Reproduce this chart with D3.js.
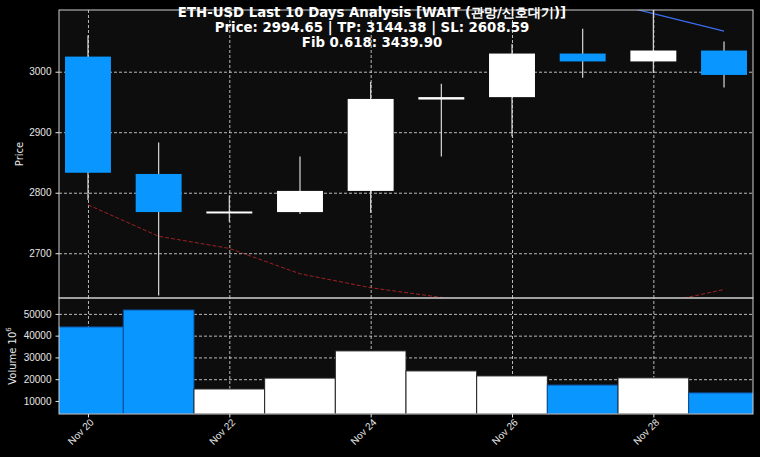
<!DOCTYPE html>
<html>
  <head>
    <meta charset="utf-8">
    <title>ETH-USD last 10 days</title>
    <script src="https://d3js.org/d3.v7.min.js"></script>
    <style>
      body { margin: 0; background: #000; font-family: 'DejaVu Sans', sans-serif; }
      .grid line { stroke: #8a8a8a; stroke-dasharray: 3,2; stroke-width: 0.8; }
      .tick text { fill: #e6e6e6; font-size: 10px; }
      .tick line { stroke: #e6e6e6; }
    </style>
  </head>
  <body>
    <svg></svg>
    <script>
      //begin: data
      var days  = ["2025-11-20","2025-11-21","2025-11-22","2025-11-23","2025-11-24",
                   "2025-11-25","2025-11-26","2025-11-27","2025-11-28","2025-11-29"];
      var open  = [3025, 2831, 2767, 2768, 2803, 2954, 2958, 3030, 3017, 3035];
      var high  = [3060, 2883, 2795, 2860, 2983, 2980, 3046, 3071, 3115, 3050];
      var low   = [2788, 2630, 2752, 2765, 2767, 2860, 2893, 2990, 2998, 2974];
      var close = [2833, 2768, 2769, 2803, 2955, 2958, 3030, 3017, 3035, 2994.65];
      var volume = [44000, 51800, 15500, 20500, 33000, 23800, 21500, 17300, 20600, 13700];
      var lowerLine = [2780, 2728, 2708, 2666, 2643, 2627, 2610, 2600, 2615, 2640];
      var upperLine = [null, null, null, null, null, null, null, 3125, 3096, 3067];
      var priceTicks = [2700, 2800, 2900, 3000];
      var volTicks = [10000, 20000, 30000, 40000, 50000];
      var titleLines = ["ETH-USD Last 10 Days Analysis [WAIT (관망/신호대기)]",
                        "Price: 2994.65 | TP: 3144.38 | SL: 2608.59",
                        "Fib 0.618: 3439.90"];
      //end: data

      var parse = d3.timeParse("%Y-%m-%d");
      var data = days.map(function(d, i) {
        return { date: parse(d), o: open[i], h: high[i], l: low[i], c: close[i],
                 v: volume[i], lo: lowerLine[i], up: upperLine[i] };
      });

      //begin: layout conf.
      var svgWidth = 760, svgHeight = 457,
          left = 59, right = 753,
          priceTop = 10, priceBottom = 298,
          volTop = 298, volBottom = 414,
          DAY = 864e5;
      //end: layout conf.

      var blue = "#0a96ff", frame = "#d0d0d0";

      var svg = d3.select("svg").attr("width", svgWidth).attr("height", svgHeight);
      svg.append("rect").attr("width", svgWidth).attr("height", svgHeight).attr("fill", "#000");

      var x = d3.scaleTime()
        .domain([new Date(+data[0].date - 0.41 * DAY), new Date(+data[9].date + 0.41 * DAY)])
        .range([left, right]);
      var yPrice = d3.scaleLinear().domain([2626, 3102]).range([priceBottom, priceTop]);
      var yVol = d3.scaleLinear().domain([4000, 57300]).range([volBottom, volTop]);

      var dateTicks = data.filter(function(d, i) { return i % 2 === 0; }).map(function(d) { return d.date; });

      svg.append("defs").append("clipPath").attr("id", "clipP")
        .append("rect").attr("x", left).attr("y", priceTop).attr("width", right - left).attr("height", priceBottom - priceTop);
      svg.select("defs").append("clipPath").attr("id", "clipV")
        .append("rect").attr("x", left).attr("y", volTop).attr("width", right - left).attr("height", volBottom - volTop);

      // panel backgrounds
      svg.append("rect").attr("x", left).attr("y", priceTop).attr("width", right - left)
        .attr("height", priceBottom - priceTop).attr("fill", "#0d0d0d");
      svg.append("rect").attr("x", left).attr("y", volTop).attr("width", right - left)
        .attr("height", volBottom - volTop).attr("fill", "#0d0d0d");

      // grids
      svg.append("g").attr("class", "grid").attr("transform", "translate(" + left + ",0)")
        .call(d3.axisLeft(yPrice).tickValues(priceTicks).tickSize(-(right - left)).tickFormat(""))
        .call(function(g) { g.select(".domain").remove(); });
      svg.append("g").attr("class", "grid").attr("transform", "translate(0," + priceBottom + ")")
        .call(d3.axisBottom(x).tickValues(dateTicks).tickSize(-(priceBottom - priceTop)).tickFormat(""))
        .call(function(g) { g.select(".domain").remove(); });
      svg.append("g").attr("class", "grid").attr("transform", "translate(" + left + ",0)")
        .call(d3.axisLeft(yVol).tickValues(volTicks).tickSize(-(right - left)).tickFormat(""))
        .call(function(g) { g.select(".domain").remove(); });
      svg.append("g").attr("class", "grid").attr("transform", "translate(0," + volBottom + ")")
        .call(d3.axisBottom(x).tickValues(dateTicks).tickSize(-(volBottom - volTop)).tickFormat(""))
        .call(function(g) { g.select(".domain").remove(); });

      // lines
      var linesG = svg.append("g").attr("clip-path", "url(#clipP)");
      linesG.append("path").datum(data)
        .attr("fill", "none").attr("stroke", "#c0262a").attr("stroke-opacity", 0.8)
        .attr("stroke-width", 1).attr("stroke-dasharray", "4,2")
        .attr("d", d3.line().x(function(d) { return x(d.date); }).y(function(d) { return yPrice(d.lo); }));
      linesG.append("path").datum(data)
        .attr("fill", "none").attr("stroke", "#3a6df0").attr("stroke-width", 1.2)
        .attr("d", d3.line().defined(function(d) { return d.up != null; })
          .x(function(d) { return x(d.date); }).y(function(d) { return yPrice(d.up); }));

      // candles
      var candleW = x(new Date(+data[0].date + 0.65 * DAY)) - x(data[0].date);
      var candles = svg.append("g").attr("clip-path", "url(#clipP)")
        .selectAll(".candle").data(data).enter().append("g").classed("candle", true);
      candles.append("line")
        .attr("x1", function(d) { return x(d.date); }).attr("x2", function(d) { return x(d.date); })
        .attr("y1", function(d) { return yPrice(d.h); }).attr("y2", function(d) { return yPrice(d.l); })
        .attr("stroke", "#d8d8d8").attr("stroke-width", 1.2);
      candles.append("rect")
        .attr("x", function(d) { return x(d.date) - candleW / 2; })
        .attr("width", candleW)
        .attr("y", function(d) { return yPrice(Math.max(d.o, d.c)); })
        .attr("height", function(d) { return Math.max(2, Math.abs(yPrice(d.o) - yPrice(d.c))); })
        .attr("fill", function(d) { return d.c >= d.o ? "#ffffff" : blue; });

      // volume bars
      var barW = x(new Date(+data[0].date + DAY)) - x(data[0].date);
      svg.append("g").attr("clip-path", "url(#clipV)")
        .selectAll(".bar").data(data).enter().append("rect").classed("bar", true)
        .attr("x", function(d) { return x(d.date) - barW / 2; })
        .attr("width", barW)
        .attr("y", function(d) { return yVol(d.v); })
        .attr("height", function(d) { return volBottom - yVol(d.v); })
        .attr("fill", function(d) { return d.c >= d.o ? "#ffffff" : blue; })
        .attr("stroke", function(d) { return d.c >= d.o ? "#222" : "#0b4f9c"; })
        .attr("stroke-width", 1);

      // frames
      [[priceTop, priceBottom], [volTop, volBottom]].forEach(function(p) {
        svg.append("rect").attr("x", left).attr("y", p[0]).attr("width", right - left)
          .attr("height", p[1] - p[0]).attr("fill", "none").attr("stroke", frame).attr("stroke-width", 1);
      });

      // axes
      svg.append("g").attr("transform", "translate(" + left + ",0)")
        .call(d3.axisLeft(yPrice).tickValues(priceTicks).tickSize(3.5).tickPadding(4).tickFormat(d3.format("d")))
        .call(function(g) { g.select(".domain").remove(); });
      svg.append("g").attr("transform", "translate(" + left + ",0)")
        .call(d3.axisLeft(yVol).tickValues(volTicks).tickSize(3.5).tickPadding(4).tickFormat(d3.format("d")))
        .call(function(g) { g.select(".domain").remove(); });
      svg.append("g").attr("transform", "translate(0," + volBottom + ")")
        .call(d3.axisBottom(x).tickValues(dateTicks).tickSize(3.5).tickFormat(d3.timeFormat("%b %d")))
        .call(function(g) {
          g.select(".domain").remove();
          g.selectAll("text").attr("text-anchor", "end").attr("dy", null).attr("y", 0)
            .attr("transform", "translate(6,9) rotate(-45)");
        });

      // axis labels
      svg.append("text").attr("transform", "translate(23," + ((priceTop + priceBottom) / 2) + ") rotate(-90)")
        .attr("text-anchor", "middle").attr("fill", "#e6e6e6").style("font-size", "10px").text("Price");
      var vl = svg.append("text").attr("transform", "translate(16," + ((volTop + volBottom) / 2) + ") rotate(-90)")
        .attr("text-anchor", "middle").attr("fill", "#e6e6e6").style("font-size", "10px");
      vl.append("tspan").text("Volume  10");
      vl.append("tspan").attr("dy", -5).style("font-size", "7px").text("6");

      // title
      svg.append("g").selectAll("text").data(titleLines).enter().append("text")
        .attr("x", 372).attr("y", function(d, i) { return 17 + i * 15; })
        .attr("text-anchor", "middle").attr("fill", "#ffffff")
        .style("font-size", "13.3px").style("font-weight", "bold")
        .text(function(d) { return d; });
    </script>
  </body>
</html>
